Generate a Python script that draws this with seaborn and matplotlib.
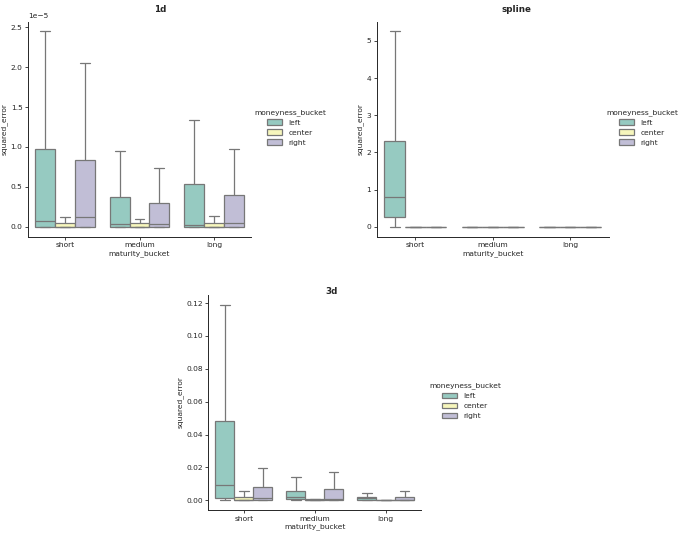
import pandas as pd
import matplotlib
matplotlib.use("Agg")
import matplotlib.pyplot as plt
import seaborn as sns

# Categories
MATURITY = ["short", "medium", "long"]
MONEYNESS = ["left", "center", "right"]

# Five-number summaries: [min, q1, median, q3, max]
# rows ordered maturity x moneyness (short-left, short-center, ... long-right)
# 1d values are in units of 1e-5
ERR_1D = [
    [0.0, 0.0, 0.08, 0.98, 2.445],
    [0.0, 0.0, 0.005, 0.055, 0.126],
    [0.0, 0.0, 0.126, 0.832, 2.05],
    [0.0, 0.0, 0.038, 0.378, 0.946],
    [0.0, 0.0, 0.005, 0.045, 0.10],
    [0.0, 0.0, 0.04, 0.30, 0.735],
    [0.0, 0.0, 0.025, 0.54, 1.34],
    [0.0, 0.0, 0.005, 0.055, 0.14],
    [0.0, 0.0, 0.055, 0.40, 0.98],
]
SCALE_1D = 1e-5

ERR_SPLINE = [
    [0.0, 0.28, 0.80, 2.31, 5.25],
    [0.0, 0.0, 0.0, 0.0, 0.0],
    [0.0, 0.0, 0.0, 0.0, 0.0],
    [0.0, 0.0, 0.0, 0.0, 0.0],
    [0.0, 0.0, 0.0, 0.0, 0.0],
    [0.0, 0.0, 0.0, 0.0, 0.0],
    [0.0, 0.0, 0.0, 0.0, 0.0],
    [0.0, 0.0, 0.0, 0.0, 0.0],
    [0.0, 0.0, 0.0, 0.0, 0.0],
]

ERR_3D = [
    [0.0, 0.0016, 0.0092, 0.0484, 0.119],
    [0.0, 0.0002, 0.0004, 0.0020, 0.0055],
    [0.0, 0.0003, 0.0014, 0.0078, 0.0194],
    [0.0, 0.0006, 0.0022, 0.0059, 0.0141],
    [0.0, 0.0002, 0.0004, 0.0006, 0.0010],
    [0.0, 0.0001, 0.0008, 0.0071, 0.0173],
    [0.0, 0.0004, 0.0012, 0.0022, 0.0047],
    [0.0, 0.0001, 0.0002, 0.0003, 0.0004],
    [0.0, 0.0, 0.0004, 0.0022, 0.0057],
]

FS = 5.4
TITLE_FS = 6.3
LINE_GRAY = "#777777"


def to_frame(rows, scale=1.0):
    recs = []
    i = 0
    for mat in MATURITY:
        for mon in MONEYNESS:
            for v in rows[i]:
                recs.append({"maturity_bucket": mat, "moneyness_bucket": mon,
                             "squared_error": v * scale})
            i += 1
    return pd.DataFrame(recs)


def draw_panel(fig, rect, df, title, title_xy, legend_xy):
    ax = fig.add_axes(rect)
    sns.boxplot(data=df, x="maturity_bucket", y="squared_error",
                hue="moneyness_bucket", order=MATURITY, hue_order=MONEYNESS,
                palette="Set3", whis=(0, 100), showfliers=False,
                linewidth=0.9, linecolor=LINE_GRAY, ax=ax)
    handles, labels = ax.get_legend_handles_labels()
    ax.get_legend().remove()
    sns.despine(ax=ax)
    ax.set_xlabel("maturity_bucket", fontsize=FS, labelpad=1.5)
    ax.set_ylabel("squared_error", fontsize=FS, labelpad=2)
    ax.tick_params(labelsize=FS, length=2.2, width=0.6, pad=1.8)
    ax.yaxis.get_offset_text().set_fontsize(FS)
    for s in ax.spines.values():
        s.set_linewidth(0.7)
    fig.text(title_xy[0] / 685, 1 - title_xy[1] / 534, title,
             fontsize=TITLE_FS, fontweight="bold", ha="center", va="center")
    fig.legend(handles, labels, title="moneyness_bucket", loc="upper left",
               bbox_to_anchor=(legend_xy[0] / 685, 1 - legend_xy[1] / 534),
               frameon=False, fontsize=FS, title_fontsize=FS,
               borderpad=0, borderaxespad=0, handlelength=2.0,
               handletextpad=0.8, labelspacing=0.5)
    return ax


sns.set_theme(style="ticks")
plt.rcParams["font.family"] = ["DejaVu Sans"]

fig = plt.figure(figsize=(6.85, 5.34), dpi=100)

draw_panel(fig, [28 / 685, 1 - 236.7 / 534, 223 / 685, 215 / 534],
           to_frame(ERR_1D, SCALE_1D), "1d", (160, 9), (254, 109))
draw_panel(fig, [376.7 / 685, 1 - 236.7 / 534, 232 / 685, 215 / 534],
           to_frame(ERR_SPLINE), "spline", (516, 9), (606, 109))
draw_panel(fig, [208.3 / 685, 1 - 510 / 534, 213 / 685, 215 / 534],
           to_frame(ERR_3D), "3d", (332, 292), (429, 382))

fig.savefig("out.png", dpi=100)
